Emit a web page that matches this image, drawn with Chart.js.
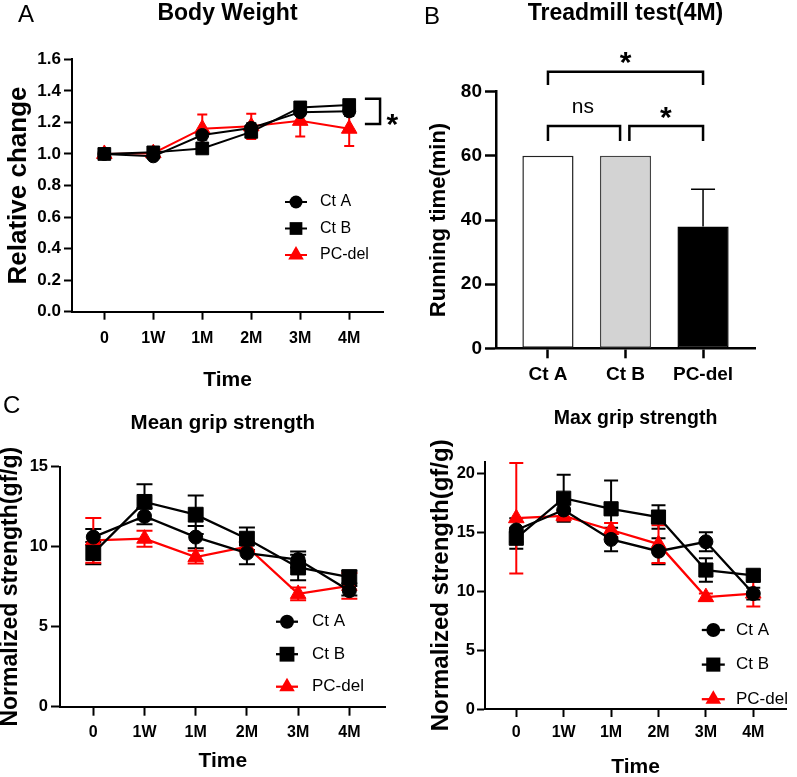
<!DOCTYPE html>
<html>
<head>
<meta charset="utf-8">
<script src="https://cdn.jsdelivr.net/npm/chart.js@4.4.1/dist/chart.umd.min.js"></script>
<style>
  html, body { margin: 0; padding: 0; background: #fff; }
  #wrap { position: relative; width: 797px; height: 777px; overflow: hidden; }
  #wrap canvas { position: absolute; left: 0; top: 0; }
  .tag { position: absolute; font: 24px 'Liberation Sans', Arial, sans-serif; line-height: 1; color: #000; }
</style>
</head>
<body>
<div id="wrap">
  <canvas id="bodyWeight" width="797" height="777"></canvas>
  <canvas id="treadmill" width="797" height="777"></canvas>
  <canvas id="meanGrip" width="797" height="777"></canvas>
  <canvas id="maxGrip" width="797" height="777"></canvas>
  <div class="tag" style="left:18px;top:2px">A</div>
  <div class="tag" style="left:424px;top:4px">B</div>
  <div class="tag" style="left:3px;top:393px">C</div>
</div>
<script>
// categories
const timeLabels = ['0', '1W', '1M', '2M', '3M', '4M'];
const groups = ['Ct A', 'Ct B', 'PC-del'];

// A - body weight, relative change
const bwCtA = [1.00, 0.985, 1.12, 1.165, 1.265, 1.27];
const bwCtB = [1.00, 1.01, 1.035, 1.14, 1.295, 1.31];
const bwPC  = [1.00, 1.005, 1.16, 1.175, 1.21, 1.16];
const bwErrCtA = [0.01, 0.01, 0.03, 0.03, 0.02, 0.03];
const bwErrCtB = [0.01, 0.01, 0.03, 0.03, 0.02, 0.02];
const bwErrPC  = [0.01, 0.01, 0.09, 0.08, 0.10, 0.11];

// B - treadmill running time (min)
const runTime = [60, 60, 38];
const runErr = [0, 0, 11.6];

// C - mean grip strength (gf/g)
const meanCtA = [10.6, 11.9, 10.6, 9.6, 9.2, 7.25];
const meanCtB = [9.6, 12.8, 12.0, 10.5, 8.7, 8.1];
const meanPC  = [10.4, 10.5, 9.35, 10.0, 7.05, 7.55];
const meanErrCtA = [0.5, 0.5, 0.7, 0.7, 0.5, 0.3];
const meanErrCtB = [0.7, 1.1, 1.2, 0.7, 0.8, 0.4];
const meanErrPC  = [1.4, 0.5, 0.4, 0.3, 0.4, 0.8];

// D - max grip strength (gf/g)
const maxCtA = [15.2, 16.9, 14.4, 13.4, 14.2, 9.8];
const maxCtB = [14.5, 17.9, 17.0, 16.3, 11.8, 11.35];
const maxPC  = [16.2, 16.4, 15.2, 14.0, 9.5, 9.8];
const maxErrCtA = [1.0, 0.7, 1.0, 1.1, 0.8, 0.5];
const maxErrCtB = [0.9, 2.0, 2.4, 1.0, 1.0, 0.4];
const maxErrPC  = [4.7, 0.4, 0.6, 1.6, 0.3, 1.1];

const RED = '#ff0000';
const BLACK = '#000000';
const SANS = "'Liberation Sans', Arial, sans-serif";
const W = 797, H = 777;

Chart.defaults.color = BLACK;
Chart.defaults.font.family = SANS;

function pts(arr) {
  return arr.map((v, i) => ({x: i, y: v}));
}

function axisStyle(tl, width) {
  return {
    grid: {drawOnChartArea: false, drawTicks: true, tickLength: tl, tickWidth: width, tickColor: BLACK, offset: false},
    border: {display: true, color: BLACK, width: width}
  };
}

function drawMark(ctx, style, r, x, y, color) {
  ctx.fillStyle = color;
  ctx.beginPath();
  if (style === 'circle') {
    ctx.arc(x, y, r, 0, Math.PI * 2);
  } else if (style === 'rect') {
    const s = r * Math.SQRT1_2;
    ctx.rect(x - s, y - s, 2 * s, 2 * s);
  } else {
    ctx.moveTo(x, y - r);
    ctx.lineTo(x + r * Math.sin(2 * Math.PI / 3), y + r / 2);
    ctx.lineTo(x - r * Math.sin(2 * Math.PI / 3), y + r / 2);
    ctx.closePath();
  }
  ctx.fill();
}

// error bars, drawn under the lines and markers
function errorBars(o) {
  return {
    id: 'errorBars',
    beforeDatasetsDraw(chart) {
      const ctx = chart.ctx;
      const ys = chart.scales.y;
      chart.data.datasets.forEach((ds, di) => {
        if (!ds.errors) return;
        const meta = chart.getDatasetMeta(di);
        ctx.save();
        ctx.strokeStyle = ds.errorColor || ds.borderColor;
        ctx.lineWidth = o.width;
        meta.data.forEach((el, i) => {
          const e = ds.errors[i];
          if (!e) return;
          const v = ds.data[i].y;
          const top = ys.getPixelForValue(v + e);
          const bot = o.upperOnly ? ys.getPixelForValue(v) : ys.getPixelForValue(v - e);
          ctx.beginPath();
          ctx.moveTo(el.x, top); ctx.lineTo(el.x, bot);
          ctx.moveTo(el.x - o.cap, top); ctx.lineTo(el.x + o.cap, top);
          if (!o.upperOnly) { ctx.moveTo(el.x - o.cap, bot); ctx.lineTo(el.x + o.cap, bot); }
          ctx.stroke();
        });
        ctx.restore();
      });
    }
  };
}

// significance brackets and labels, placed in data units
function sigMarks(paths, texts, width) {
  return {
    id: 'sigMarks',
    afterDraw(chart) {
      const {ctx, scales: {x, y}} = chart;
      ctx.save();
      ctx.strokeStyle = BLACK;
      ctx.lineWidth = width;
      ctx.lineJoin = 'miter';
      paths.forEach(p => {
        ctx.beginPath();
        p.forEach(([px, py], k) => {
          const X = x.getPixelForValue(px), Y = y.getPixelForValue(py);
          if (k) ctx.lineTo(X, Y); else ctx.moveTo(X, Y);
        });
        ctx.stroke();
      });
      texts.forEach(t => {
        ctx.font = t.font;
        ctx.fillStyle = BLACK;
        ctx.textAlign = 'center';
        ctx.textBaseline = 'alphabetic';
        ctx.fillText(t.text, x.getPixelForValue(t.x), y.getPixelForValue(t.y) + t.dy);
      });
      ctx.restore();
    }
  };
}

// line + marker legend inside the plot
function keyBox(k) {
  return {
    id: 'keyBox',
    afterDraw(chart) {
      const ctx = chart.ctx;
      chart.data.datasets.forEach((ds, i) => {
        const y = k.y + i * k.dy;
        ctx.save();
        ctx.strokeStyle = ds.borderColor;
        ctx.lineWidth = k.lw;
        ctx.beginPath();
        ctx.moveTo(k.x - k.half, y);
        ctx.lineTo(k.x + k.half, y);
        ctx.stroke();
        drawMark(ctx, ds.pointStyle, ds.pointRadius, k.x, y, ds.borderColor);
        ctx.font = k.font;
        ctx.fillStyle = BLACK;
        ctx.textAlign = 'left';
        ctx.textBaseline = 'middle';
        ctx.fillText(ds.label, k.tx, y);
        ctx.restore();
      });
    }
  };
}

function lineChart(id, p) {
  const sets = [
    {label: groups[0], values: p.a, err: p.ea, style: 'circle', r: p.rc, color: BLACK},
    {label: groups[1], values: p.b, err: p.eb, style: 'rect', r: p.rr, color: BLACK},
    {label: groups[2], values: p.c, err: p.ec, style: 'triangle', r: p.rt, color: RED}
  ];
  const bx = p.box;
  return new Chart(document.getElementById(id), {
    type: 'line',
    data: {
      datasets: sets.map(s => ({
        label: s.label,
        data: pts(s.values),
        errors: s.err,
        borderColor: s.color,
        backgroundColor: s.color,
        borderWidth: p.lw,
        pointStyle: s.style,
        pointRadius: s.r,
        pointBackgroundColor: s.color,
        pointBorderColor: s.color,
        pointBorderWidth: 1,
        tension: 0
      }))
    },
    options: {
      responsive: false,
      animation: false,
      devicePixelRatio: 1,
      layout: {padding: {left: bx.pl, top: 0, right: W - bx.r, bottom: H - (bx.b + p.xh)}},
      plugins: {
        legend: {display: false},
        tooltip: {enabled: false},
        title: {
          display: true, text: p.title, fullSize: false, color: BLACK,
          font: {family: SANS, size: p.titleSize, weight: 'bold', lineHeight: 1},
          padding: {top: p.titleY - p.titleSize / 2, bottom: bx.t - p.titleY - p.titleSize / 2}
        }
      },
      scales: {
        x: {
          type: 'linear', min: p.xMin, max: p.xMax,
          afterFit: s => { s.height = p.xh; },
          ticks: {
            stepSize: 1, includeBounds: false, autoSkip: false, maxRotation: 0, color: BLACK,
            font: {family: SANS, size: 16, weight: 'bold'}, padding: p.xPad,
            callback: v => timeLabels[v] ?? ''
          },
          title: {display: true, text: 'Time', color: BLACK,
            font: {family: SANS, size: 21, weight: 'bold', lineHeight: 1},
            padding: {top: 0, bottom: p.xtPad}},
          ...axisStyle(p.tl, p.aw)
        },
        y: {
          type: 'linear', min: p.yMin, max: p.yMax,
          afterFit: s => { s.width = bx.l - bx.pl; },
          ticks: {
            stepSize: p.yStep, includeBounds: false, color: BLACK,
            font: {family: SANS, size: p.yTickSize, weight: 'bold'}, padding: p.yPad,
            callback: p.yFmt
          },
          title: {display: true, text: p.yTitle, color: BLACK,
            font: {family: SANS, size: p.yTitleSize, weight: 'bold', lineHeight: 1},
            padding: {top: p.ytPad, bottom: 0}},
          ...axisStyle(p.tl, p.aw)
        }
      }
    },
    plugins: [errorBars({width: 2, cap: p.cap}), keyBox(p.key), sigMarks(p.sigPaths || [], p.sigTexts || [], 2.5)]
  });
}

// A
lineChart('bodyWeight', {
  a: bwCtA, b: bwCtB, c: bwPC, ea: bwErrCtA, eb: bwErrCtB, ec: bwErrPC,
  rc: 6.5, rr: 9, rt: 9, lw: 2, cap: 5,
  box: {pl: 0, l: 72, t: 59.3, r: 383, b: 311.7},
  xh: 79.2, xtPad: 0, xPad: 9, tl: 8, aw: 2,
  xMin: -0.66, xMax: 5.69,
  yMin: 0, yMax: 1.6, yStep: 0.2, yFmt: v => v.toFixed(1),
  yTickSize: 17, yPad: 3,
  yTitle: 'Relative change', yTitleSize: 26, ytPad: 6,
  title: 'Body Weight', titleSize: 23, titleY: 13.5,
  key: {x: 296, half: 11, tx: 320, y: 202, dy: 26.5, lw: 2, font: "16px 'Liberation Sans', Arial, sans-serif"},
  sigPaths: [[[5.32, 1.35], [5.63, 1.35], [5.63, 1.19], [5.32, 1.19]]],
  sigTexts: [{text: '*', x: 5.88, y: 1.237, dy: 17, font: "bold 30px 'Liberation Sans', Arial, sans-serif"}]
});

// B
new Chart(document.getElementById('treadmill'), {
  type: 'bar',
  data: {
    datasets: [{
      label: 'Running time',
      data: pts(runTime),
      errors: runErr,
      errorColor: BLACK,
      backgroundColor: ['#ffffff', '#d3d3d3', '#000000'],
      borderColor: ['#222222', '#444444', '#000000'],
      borderWidth: 1.5,
      borderSkipped: false,
      barPercentage: 0.66,
      categoryPercentage: 1
    }]
  },
  options: {
    responsive: false,
    animation: false,
    devicePixelRatio: 1,
    layout: {padding: {left: 400, top: 0, right: W - 755, bottom: H - (348.3 + 40)}},
    plugins: {
      legend: {display: false},
      tooltip: {enabled: false},
      title: {
        display: true, text: 'Treadmill test(4M)', fullSize: false, color: BLACK,
        font: {family: SANS, size: 23, weight: 'bold', lineHeight: 1},
        padding: {top: 1.8, bottom: 91.7 - 1.8 - 23}
      }
    },
    scales: {
      x: {
        type: 'linear', min: -0.67, max: 2.67, offset: false,
        afterFit: s => { s.height = 40; },
        ticks: {
          stepSize: 1, includeBounds: false, autoSkip: false, maxRotation: 0, color: BLACK,
          font: {family: SANS, size: 19, weight: 'bold'}, padding: 5,
          callback: v => groups[v] ?? ''
        },
        ...axisStyle(10, 2.5)
      },
      y: {
        type: 'linear', min: 0, max: 80,
        afterFit: s => { s.width = 96; },
        ticks: {stepSize: 20, includeBounds: false, color: BLACK,
          font: {family: SANS, size: 19, weight: 'bold'}, padding: 3},
        title: {display: true, text: 'Running time(min)', color: BLACK,
          font: {family: SANS, size: 22, weight: 'bold', lineHeight: 1},
          padding: {top: 28, bottom: 0}},
        ...axisStyle(11, 2.5)
      }
    }
  },
  plugins: [
    errorBars({width: 1.5, cap: 12, upperOnly: true}),
    sigMarks(
      [
        [[0, 82.1], [0, 86.2], [2, 86.2], [2, 82.1]],
        [[0, 64.6], [0, 69.3], [0.93, 69.3], [0.93, 64.6]],
        [[1.05, 64.6], [1.05, 69.3], [2, 69.3], [2, 64.6]]
      ],
      [
        {text: '*', x: 1, y: 91.4, dy: 17, font: "bold 30px 'Liberation Sans', Arial, sans-serif"},
        {text: 'ns', x: 0.45, y: 75.2, dy: 5.5, font: "21px 'Liberation Sans', Arial, sans-serif"},
        {text: '*', x: 1.52, y: 74.3, dy: 17, font: "bold 30px 'Liberation Sans', Arial, sans-serif"}
      ],
      2.5)
  ]
});

// C
lineChart('meanGrip', {
  a: meanCtA, b: meanCtB, c: meanPC, ea: meanErrCtA, eb: meanErrCtB, ec: meanErrPC,
  rc: 7, rr: 10.5, rt: 9, lw: 2.3, cap: 8,
  box: {pl: 0, l: 60, t: 466.7, r: 385.7, b: 706.7},
  xh: 65.5, xtPad: 0, xPad: 7, tl: 9, aw: 2,
  xMin: -0.65, xMax: 5.71,
  yMin: 0, yMax: 15, yStep: 5, yFmt: v => v,
  yTickSize: 16.5, yPad: 3,
  yTitle: 'Normalized strength(gf/g)', yTitleSize: 23, ytPad: -0.5,
  title: 'Mean grip strength', titleSize: 20.5, titleY: 423,
  key: {x: 287, half: 11, tx: 312, y: 621.7, dy: 32.5, lw: 2.3, font: "17px 'Liberation Sans', Arial, sans-serif"}
});

// D
lineChart('maxGrip', {
  a: maxCtA, b: maxCtB, c: maxPC, ea: maxErrCtA, eb: maxErrCtB, ec: maxErrPC,
  rc: 7, rr: 10, rt: 9, lw: 2.3, cap: 7,
  box: {pl: 400, l: 485, t: 461.7, r: 796.5, b: 709},
  xh: 68, xtPad: -1, xPad: 6, tl: 8, aw: 2,
  xMin: -0.66, xMax: 5.69,
  yMin: 0, yMax: 21, yStep: 5, yFmt: v => v,
  yTickSize: 16.5, yPad: 2,
  yTitle: 'Normalized strength(gf/g)', yTitleSize: 24, ytPad: 29,
  title: 'Max grip strength', titleSize: 19.5, titleY: 419,
  key: {x: 713.3, half: 11.5, tx: 736, y: 630, dy: 34.6, lw: 2.3, font: "17px 'Liberation Sans', Arial, sans-serif"}
});
</script>
</body>
</html>
